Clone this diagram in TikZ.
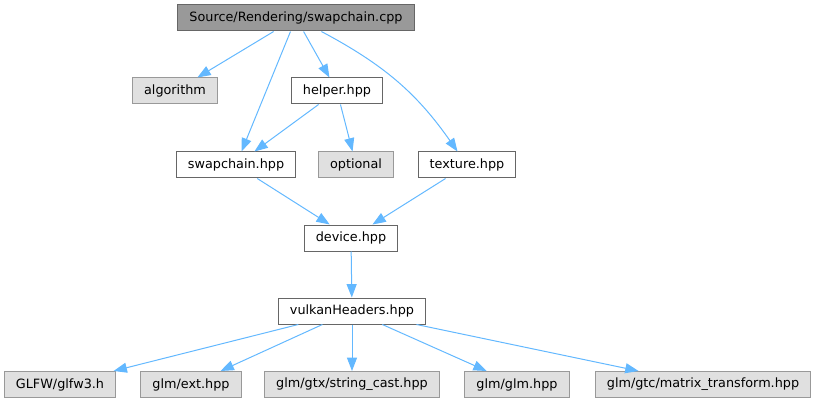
\documentclass[tikz,border=0pt]{standalone}
\usepackage{fontspec}
\setmainfont{DejaVu Sans}
\usetikzlibrary{arrows.meta}
\definecolor{edgeblue}{HTML}{63B8FF}
\begin{document}
\begin{tikzpicture}[x=0.75pt, y=-0.75pt,
  file/.style={draw=black!60, fill=white, line width=0.75pt, minimum height=19.5pt, inner xsep=8.7pt, inner ysep=0pt, font=\fontsize{9.6}{11}\selectfont},
  sysfile/.style={file, draw=black!40, fill=black!12},
  srcfile/.style={file, fill=black!40}]
\useasboundingbox (0,0) rectangle (815,403);
\node[srcfile] (src) at (296,18) {Source/Rendering/swapchain.cpp};
\node[sysfile] (algo) at (175,91) {algorithm};
\node[file] (helper) at (337,91) {helper.hpp};
\node[file] (swch) at (236,165) {swapchain.hpp};
\node[sysfile] (opt) at (356,165) {optional};
\node[file] (tex) at (467,165) {texture.hpp};
\node[file] (dev) at (351,238) {device.hpp};
\node[file] (vk) at (352,311) {vulkanHeaders.hpp};
\node[sysfile] (glfw) at (60,384.5) {GLFW/glfw3.h};
\node[sysfile] (ext) at (191,384.5) {glm/ext.hpp};
\node[sysfile] (strc) at (352,384.5) {glm/gtx/string\_cast.hpp};
\node[sysfile] (glm) at (517,384.5) {glm/glm.hpp};
\node[sysfile] (mtx) at (703,384.5) {glm/gtc/matrix\_transform.hpp};
\draw[-{Triangle[length=10pt,width=7.5pt]}, draw=edgeblue, fill=edgeblue, line width=0.75pt]
  (src) edge (algo) (src) edge (swch) (src) edge (helper) (src) edge[out=-28, in=125] (tex)
  (helper) edge (swch) (helper) edge (opt)
  (swch) edge (dev) (tex) edge (dev) (dev) edge (vk)
  (vk) edge (glfw) (vk) edge (ext) (vk) edge (strc) (vk) edge (glm) (vk) edge (mtx);
\end{tikzpicture}
\end{document}
